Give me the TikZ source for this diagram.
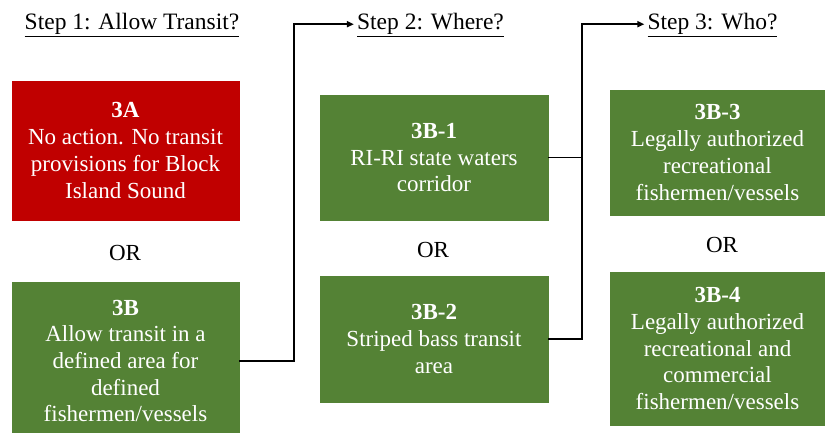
\documentclass[tikz,border=0pt]{standalone}
\usepackage{fontspec}
\setmainfont{Liberation Serif}
\usetikzlibrary{arrows.meta, positioning, calc}
\definecolor{optred}{RGB}{192,0,0}
\definecolor{optgreen}{RGB}{84,130,53}
\tikzset{
    box/.style={draw=#1, fill=#1, text=white, align=center, inner sep=2pt, font=\fontsize{23}{26.7}\selectfont},
    steplabel/.style={font=\fontsize{23.5}{27}\selectfont, inner sep=3pt, anchor=base},
    orlabel/.style={font=\fontsize{23}{27}\selectfont},
    arrow/.style={-{Triangle[length=7pt,width=6pt]}, line width=1.8pt, black},
    link/.style={line width=1.8pt, black}
}

\begin{document}
\begin{tikzpicture}[x=1pt, y=-1pt]
        \useasboundingbox (0,0) rectangle (825,433);
        % Step headings
        \node [steplabel] (s1) at (132,29.5) {\underline{Step 1: Allow Transit?}};
        \node [steplabel] (s2) at (430.5,29.5) {\underline{Step 2: Where?}};
        \node [steplabel] (s3) at (712.5,29.5) {\underline{Step 3: Who?}};

        % Step 1 options
        \node [box=optred, minimum width=227pt, minimum height=139pt] (a3) at (125.5,150.5) {\textbf{3A}\\No action. No transit\\provisions for Block\\Island Sound};
        \node [orlabel] (or1) at (125,253) {OR};
        \node [box=optgreen, minimum width=227pt, minimum height=158pt] (b3) at (125.5,361) {\textbf{3B}\\Allow transit in a\\defined area for\\defined\\fishermen/vessels};

        % Step 2 options
        \node [box=optgreen, minimum width=228pt, minimum height=125pt] (b31) at (434,157.5) {\textbf{3B-1}\\RI-RI state waters\\corridor};
        \node [orlabel] (or2) at (433,250) {OR};
        \node [box=optgreen, minimum width=228pt, minimum height=126pt] (b32) at (434,339) {\textbf{3B-2}\\Striped bass transit\\area};

        % Step 3 options
        \node [box=optgreen, minimum width=215pt, minimum height=125pt] (b33) at (717.5,152.5) {\textbf{3B-3}\\Legally authorized\\recreational\\fishermen/vessels};
        \node [orlabel] (or3) at (722,245) {OR};
        \node [box=optgreen, minimum width=215pt, minimum height=153pt] (b34) at (717.5,348.5) {\textbf{3B-4}\\Legally authorized\\recreational and\\commercial\\fishermen/vessels};

        \draw [arrow] (b3.east) -- ++(55,0) |- ([yshift=3pt]s2.mid west);
        \draw [link] (b31.east) -- ++(34,0);
        \draw [arrow] (b32.east) -- ++(34,0) |- ([yshift=3pt]s3.mid west);
    \end{tikzpicture}
\end{document}
